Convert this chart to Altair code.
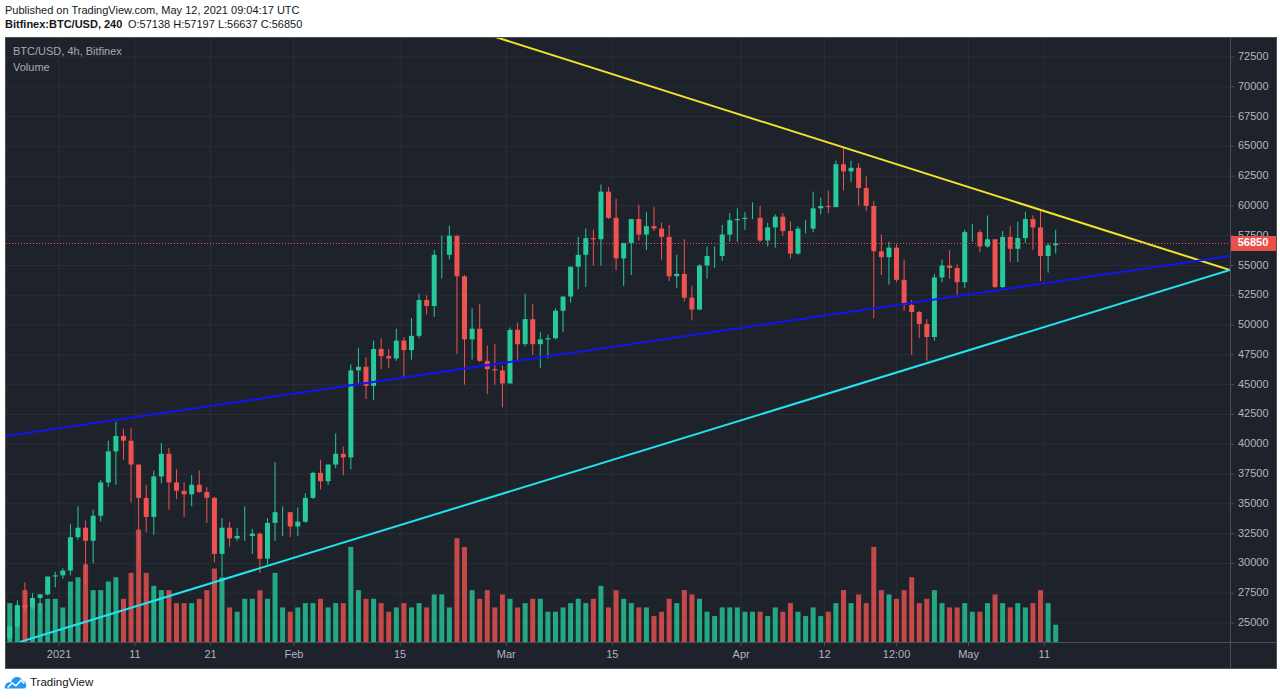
import altair as alt
import pandas as pd

FONT = "Liberation Sans"
BG = "#1e222a"
GRID = "#2a2e37"
FRAME = "#4b5057"
LABEL = "#b2b5be"
UP = "#26c99a"
DOWN = "#ef5350"

# ---------------- daily candles (BTC/USD, Bitfinex) ----------------
first_day = "2020-12-25"
opens = [23700, 24700, 26500, 26300, 27100, 27400, 28900,
         29000, 29400, 32200, 33000, 31900, 34000, 36800, 39400, 40700, 40300, 38300, 35500, 33900, 37300, 39200, 36800,
         36100, 35800, 36600, 36000, 35500, 30800, 33000, 32100, 32300, 32300, 32500, 30400, 33400, 34300, 34300,
         33100, 33500, 35500, 37600, 36900, 38300, 39200, 38900, 46200, 46500, 44900, 48000, 47400, 47200, 48700,
         47900, 49100, 52100, 51600, 55900, 55900, 57500, 54100, 48800, 49700, 47000, 46300, 46200,
         45100, 49600, 48400, 50500, 48400, 48800, 48900, 51200, 52400, 54900, 55900, 57300, 57200, 61200, 59000,
         55600, 56900, 58900, 57600, 58300, 58100, 57400, 54100, 54300, 52300, 51300, 55000, 55800, 55800, 57600, 58800,
         58900, 59000, 59000, 57100, 58200, 59100, 57900, 56000, 58100, 58100, 59800, 60000, 59900, 63500, 62900,
         63200, 61500, 60000, 56200, 55700, 56500, 53800, 51700, 51100, 50100, 49000, 54000, 55000, 54800, 53600,
         57800, 57800, 56600, 57200, 53200, 57400, 56400, 57300, 58900, 58200, 55800, 56700]
highs = [24800, 26900, 28400, 27500, 27400, 28900, 29300,
         29600, 33300, 34800, 33600, 34500, 37000, 40300, 41900, 41300, 41400, 38300, 36600, 37800, 40100, 39700, 37900,
         36800, 37400, 37800, 36400, 35600, 33800, 33500, 33000, 34800, 32900, 32600, 33800, 38500, 34800, 34300,
         34700, 35900, 37700, 38700, 38300, 40900, 39800, 46700, 48100, 47300, 48700, 48900, 48000, 49700,
         49000, 50600, 52600, 52500, 56300, 57500, 58350, 57500, 54200, 51400, 51800, 48300, 48400, 46600,
         49800, 50200, 52600, 51800, 49400, 49200, 51400, 52400, 54900, 57400, 58100, 58000, 61800, 61600,
         60600, 56900, 58900, 60100, 59500, 59900, 58600, 58400, 55900, 57200, 53300, 55100, 56600, 56600, 58400, 59400, 59800,
         59500, 60300, 60000, 58600, 59300, 59400, 58700, 58300, 58800, 61200, 60700, 61300, 63800, 64850,
         63800, 63600, 62500, 60400, 57600, 57000, 56800, 55500, 52100, 51200, 50500, 54300, 55500, 56300, 55100, 58000,
         58500, 58000, 59200, 57200, 57900, 58300, 58700, 59500, 59200, 59600, 56900, 58000]
lows = [23400, 24500, 25900, 26100, 25900, 27300, 28000,
        28700, 29000, 32000, 28100, 30000, 33500, 36400, 36600, 38700, 35100, 30400, 32600, 32400, 36700, 34500, 35400,
        33900, 34800, 35900, 33400, 30100, 28900, 31400, 31900, 31900, 30800, 29200, 29900, 31900, 32300, 32200,
        32300, 33400, 35400, 36200, 36600, 38000, 37400, 37900, 45000, 43800, 43700, 46300, 46400, 47000,
        45600, 47100, 48900, 50900, 50700, 53900, 55500, 47600, 45000, 47100, 46900, 44200, 45000, 43100,
        45100, 47100, 48200, 47500, 46400, 47200, 48800, 49400, 51900, 53000, 53200, 55000, 55000, 58900,
        54600, 53300, 54200, 57100, 56300, 57900, 55500, 53700, 53100, 52000, 50400, 51300, 53900, 54800, 55400, 57000, 57000,
        58000, 58900, 57000, 56600, 56500, 57500, 55600, 55900, 57700, 57800, 59300, 59400, 59900, 61300,
        62000, 60000, 59600, 50600, 54200, 53400, 53600, 51200, 47500, 48900, 47000, 48700, 53600, 53900, 52400, 53100,
        57000, 56100, 56500, 53100, 53100, 55300, 55300, 56900, 56300, 53700, 54400, 56000]
closes = [24700, 26500, 26300, 27100, 27400, 28900, 29000,
          29400, 32200, 33000, 31900, 34000, 36800, 39400, 40700, 40300, 38300, 35500, 33900, 37300, 39200, 36800, 36100,
          35800, 36600, 36000, 35500, 30800, 33000, 32100, 32300, 32300, 32500, 30400, 33400, 34300, 34300, 33100,
          33500, 35500, 37600, 36900, 38300, 39200, 38900, 46200, 46500, 44900, 48000, 47400, 47200, 48700,
          47900, 49100, 52100, 51600, 55900, 55900, 57500, 54100, 48800, 49700, 47000, 46300, 46200, 45100,
          49600, 48400, 50500, 48400, 48800, 48900, 51200, 52400, 54900, 55900, 57300, 57200, 61200, 59000,
          55600, 56900, 58900, 57600, 58300, 58100, 57400, 54100, 54300, 52300, 51300, 55000, 55800, 55800, 57600, 58800, 58900,
          59000, 59000, 57100, 58200, 59100, 57900, 56000, 58100, 58100, 59800, 60000, 59900, 63500, 62900,
          63200, 61500, 60000, 56200, 55700, 56500, 53800, 51700, 51100, 50100, 49000, 54000, 55000, 54800, 53600, 57800,
          57800, 56600, 57200, 53200, 57400, 56400, 57300, 58900, 58200, 55800, 56700, 56850]
volumes_k = [9, 8, 12, 9, 9, 10, 10,
             8, 14, 15, 18, 12, 12, 14, 15, 10, 16, 26, 16, 13, 12, 12, 9, 9, 9, 10, 12, 17, 15, 8, 7, 10, 10, 12, 10, 16, 8, 7,
             8, 9, 9, 10, 8, 9, 9, 22, 12, 10, 10, 9, 7, 8, 9, 8, 9, 8, 11, 11, 8, 24, 22, 12, 10, 12, 8, 11,
             10, 8, 9, 10, 10, 7, 7, 8, 9, 10, 9, 10, 13, 8, 12, 10, 9, 8, 8, 6, 7, 10, 9, 12, 11, 10, 7, 6, 8, 8, 8,
             7, 7, 7, 6, 8, 7, 9, 7, 6, 8, 6, 7, 9, 12, 9, 11, 9, 22, 12, 11, 10, 12, 15, 9, 10, 12, 9, 8, 8, 9,
             7, 7, 9, 11, 9, 8, 9, 8, 9, 12, 9, 4]

last_price = 56850

# trend lines drawn on the chart (two anchor points each)
line_ids = ["yellow", "yellow", "blue", "blue", "cyan", "cyan"]
line_times = ["2021-02-27T14:00:00Z", "2021-06-04T12:00:00Z",
              "2020-12-25T00:00:00Z", "2021-06-04T12:00:00Z",
              "2020-12-26T20:00:00Z", "2021-06-04T12:00:00Z"]
line_prices = [74178, 54625, 40693, 55800, 23406, 54625]
line_colors = ["#f2e22c", "#1414f0", "#22e3ee"]

# axis ticks
price_ticks = list(range(25000, 72501, 2500))
time_ticks = ["2021-01-01T00:00:00Z", "2021-01-11T00:00:00Z", "2021-01-21T00:00:00Z", "2021-02-01T00:00:00Z",
              "2021-02-15T00:00:00Z", "2021-03-01T00:00:00Z", "2021-03-15T00:00:00Z", "2021-04-01T00:00:00Z",
              "2021-04-12T00:00:00Z", "2021-04-21T12:00:00Z", "2021-05-01T00:00:00Z", "2021-05-11T00:00:00Z"]
time_labels = ["2021", "11", "21", "Feb", "15", "Mar", "15", "Apr", "12", "12:00", "May", "11"]

# ---------------- tables ----------------
days = pd.date_range(first_day, periods=len(closes), freq="D") + pd.Timedelta(hours=12)
df = pd.DataFrame({
    "t": days.strftime("%Y-%m-%dT%H:%M:%SZ"),
    "open": opens, "high": highs, "low": lows, "close": closes, "volume": volumes_k,
})
df["dir"] = ["up" if c >= o else "down" for o, c in zip(opens, closes)]

lines_df = pd.DataFrame({"id": line_ids, "t": line_times, "price": line_prices})
ydf = pd.DataFrame({"v": price_ticks, "lab": [str(v) for v in price_ticks]})
xdf = pd.DataFrame({"t": time_ticks, "lab": time_labels})
one = pd.DataFrame({"k": [0]})


def dt(y, m, d, h=0):
    return alt.DateTime(year=y, month=m, date=d, hours=h, utc=True)


xscale = alt.Scale(type="utc", domain=[dt(2020, 12, 25), dt(2021, 6, 4, 12)], padding=0)
X = alt.X("t:T", scale=xscale, axis=None)
PRICE_DOMAIN = [23406, 74178]


def yscale():
    return alt.Scale(domain=PRICE_DOMAIN, nice=False, zero=False)


color = alt.Color("dir:N", scale=alt.Scale(domain=["up", "down"], range=[UP, DOWN]), legend=None)

# ---- price-axis layer (grid, ticks, labels) ----
ygrid = alt.Chart(ydf).mark_rule(color=GRID, strokeWidth=1).encode(
    y=alt.Y("v:Q", scale=yscale(), axis=None), x=alt.value(0), x2=alt.value(1224))
yticks = alt.Chart(ydf).mark_rule(color=FRAME, strokeWidth=1).encode(
    y=alt.Y("v:Q", axis=None), x=alt.value(1224), x2=alt.value(1228))
ylabels = alt.Chart(ydf).mark_text(font=FONT, fontSize=11, color=LABEL, align="left", baseline="middle").encode(
    y=alt.Y("v:Q", axis=None), x=alt.value(1232), text="lab:N")
yaxis_layer = alt.layer(ygrid, yticks, ylabels)

# ---- time-axis layers ----
xgrid = alt.Chart(xdf).mark_rule(color=GRID, strokeWidth=1).encode(
    x=X, y=alt.value(0), y2=alt.value(605))
xticks = alt.Chart(xdf).mark_rule(color=FRAME, strokeWidth=1).encode(
    x=X, y=alt.value(605), y2=alt.value(609))
xlabels = alt.Chart(xdf).mark_text(font=FONT, fontSize=11, color=LABEL, align="center", baseline="middle").encode(
    x=X, y=alt.value(618), text="lab:N")

volume = alt.Chart(df).mark_bar(size=5, opacity=0.8).encode(
    x=X,
    y=alt.Y("volume:Q", scale=alt.Scale(domain=[0, 140], nice=False), axis=None),
    color=color,
)

wicks = alt.Chart(df).mark_rule(strokeWidth=1).encode(
    x=X, y=alt.Y("low:Q", scale=yscale(), axis=None), y2="high:Q", color=color)
bodies = alt.Chart(df).mark_bar(size=5).encode(
    x=X, y=alt.Y("open:Q", axis=None), y2="close:Q", color=color)
trend = alt.Chart(lines_df).mark_line(strokeWidth=2, clip=True).encode(
    x=X, y=alt.Y("price:Q", axis=None), detail="id:N",
    stroke=alt.Stroke("id:N", scale=alt.Scale(domain=["yellow", "blue", "cyan"], range=line_colors), legend=None))
price_line = alt.Chart(one).mark_rule(color=DOWN, strokeDash=[1, 2], strokeWidth=1).encode(
    y=alt.Y(datum=last_price, axis=None), x=alt.value(0), x2=alt.value(1224))
box_path = "M-1,-0.33L1,-0.33L1,0.33L-1,0.33Z"
price_box = alt.Chart(one).mark_point(shape=box_path, filled=True, fill="#e9504a", opacity=1, size=2116,
                                      strokeWidth=0).encode(
    y=alt.Y(datum=last_price, axis=None), x=alt.value(1247))
price_text = alt.Chart(one).mark_text(font=FONT, fontSize=11, fontWeight="bold", color="white",
                                      align="center", baseline="middle").encode(
    y=alt.Y(datum=last_price, axis=None), x=alt.value(1247), text=alt.value(str(last_price)))

price_layer = alt.layer(wicks, bodies, trend, price_line, price_box, price_text)


def prule(x, x2, y, y2):
    return alt.Chart(one).mark_rule(color=FRAME, strokeWidth=1).encode(
        x=alt.value(x), x2=alt.value(x2), y=alt.value(y), y2=alt.value(y2))


def prect(x, x2, y, y2, c):
    return alt.Chart(one).mark_rect(color=c).encode(
        x=alt.value(x), x2=alt.value(x2), y=alt.value(y), y2=alt.value(y2))


def ptext(x, y, s, size=11, c="#131722", weight="normal"):
    return alt.Chart(one).mark_text(font=FONT, fontSize=size, fontWeight=weight, color=c,
                                    align="left", baseline="middle").encode(
        x=alt.value(x), y=alt.value(y), text=alt.value(s))


frame = [
    prule(-1, 1270, 0.5, 0.5), prule(-1, 1270, 631.5, 631.5),
    prule(-0.5, -0.5, 0, 632), prule(1270.5, 1270.5, 0, 632),
    prule(1224.5, 1224.5, 0, 632), prule(-1, 1270, 605.5, 605.5),
]
white = [
    prect(-6, 1274, -37, 0, "white"), prect(-6, 1274, 632, 662, "white"),
    prect(-6, -1, -37, 662, "white"), prect(1271, 1274, -37, 662, "white"),
]
texts = [
    ptext(-1, -26.5, "Published on TradingView.com, May 12, 2021 09:04:17 UTC"),
    ptext(-1, -12, "Bitfinex:BTC/USD, 240", weight="bold"),
    ptext(122, -12, "O:57138 H:57197 L:56637 C:56850"),
    ptext(7, 15, "BTC/USD, 4h, Bitfinex", c="#a7aab2"),
    ptext(7, 30.5, "Volume", c="#a7aab2"),
    ptext(24, 646, "TradingView", size=11.5),
]
cloud = "M-1,0.5C-1.05,0.05 -0.7,-0.15 -0.45,-0.05C-0.35,-0.6 0.35,-0.75 0.6,-0.2C0.95,-0.2 1.05,0.5 0.7,0.5Z"
zig = "M-0.75,0.4L-0.35,0L0,0.25L0.45,-0.25L0.75,0.05"
logo = [
    alt.Chart(one).mark_point(shape=cloud, filled=True, fill="#2196f3", opacity=1, size=500, strokeWidth=0).encode(
        x=alt.value(10), y=alt.value(646)),
    alt.Chart(one).mark_point(shape=zig, filled=False, stroke="white", strokeWidth=1.6, opacity=1, size=500).encode(
        x=alt.value(10), y=alt.value(646)),
]

chart = alt.layer(yaxis_layer, xgrid, volume, price_layer, xticks, xlabels, *frame, *white, *texts, *logo).resolve_scale(
    y="independent"
).properties(
    width=1224, height=605,
    padding={"left": 6, "top": 37, "right": 50, "bottom": 57},
    autosize=alt.AutoSizeParams(type="none"),
    background=BG,
).configure_view(stroke=None).configure_text(font=FONT)

chart.save("out.html", embed_options={"renderer": "svg", "actions": False})
